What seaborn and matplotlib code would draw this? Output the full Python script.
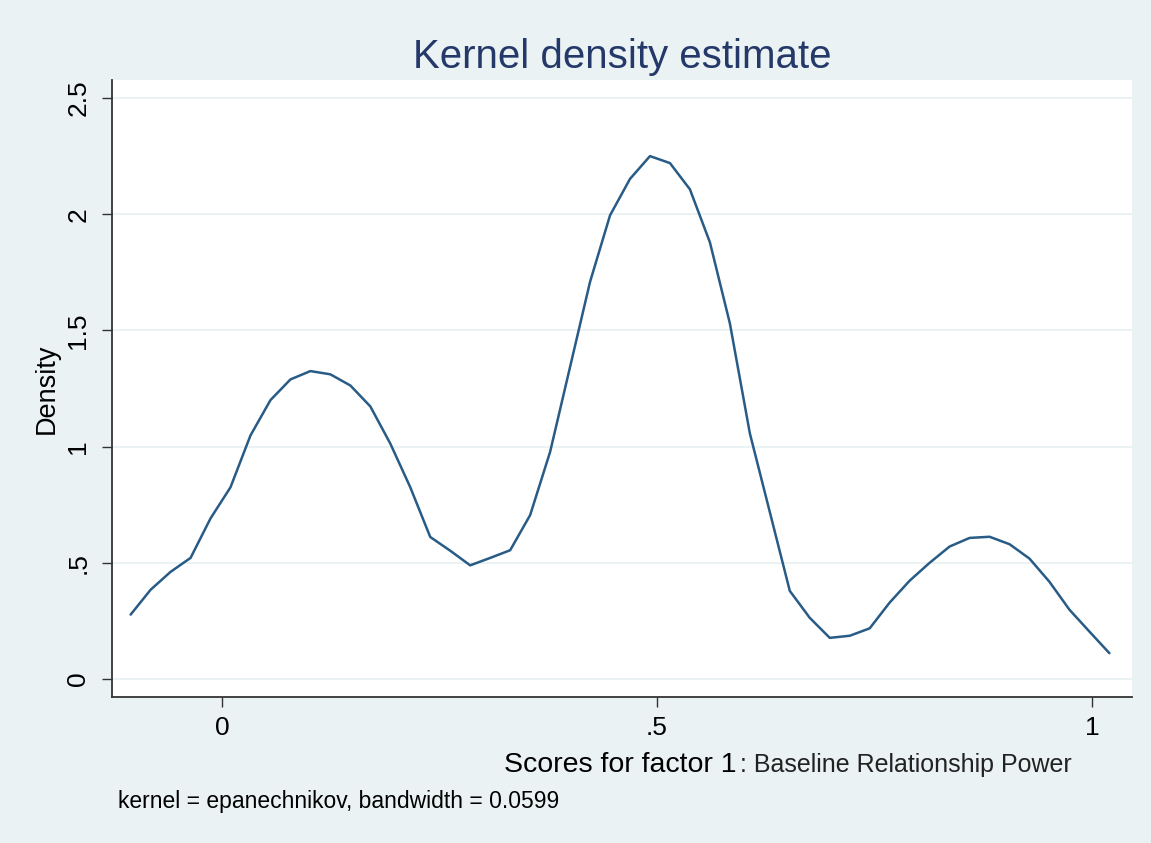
import numpy as np
import pandas as pd
import seaborn as sns
import matplotlib
matplotlib.use("Agg")
import matplotlib.pyplot as plt

# --- data ---
x_start = -0.105
x_step = 0.02296
n_points = 50
density = [0.277, 0.384, 0.461, 0.521, 0.691, 0.825, 1.048, 1.200, 1.289, 1.325,
           1.311, 1.263, 1.173, 1.013, 0.825, 0.611, 0.552, 0.489, 0.521, 0.554,
           0.705, 0.977, 1.343, 1.709, 1.995, 2.152, 2.250, 2.220, 2.107, 1.879,
           1.530, 1.057, 0.718, 0.379, 0.263, 0.177, 0.186, 0.218, 0.329, 0.423,
           0.500, 0.570, 0.607, 0.612, 0.580, 0.518, 0.418, 0.298, 0.204, 0.111]
scores = [x_start + i * x_step for i in range(n_points)]

x_ticks = [0, 0.5, 1]
x_tick_labels = ["0", ".5", "1"]
y_ticks = [0, 0.5, 1, 1.5, 2, 2.5]
y_tick_labels = ["0", ".5", "1", "1.5", "2", "2.5"]

title = "Kernel density estimate"
xlabel_main = "Scores for factor 1"
xlabel_sub = ": Baseline Relationship Power"
ylabel = "Density"
note = "kernel = epanechnikov, bandwidth = 0.0599"

df = pd.DataFrame({"score": scores, "density": density})

# --- styling ---
sns.set_theme(style="white")
plt.rcParams['font.family'] = ['Liberation Sans', 'DejaVu Sans']
bg = "#EAF2F3"
line_col = "#285B86"
title_col = "#24396A"
axis_col = "#333333"

W, H = 1151, 843
fig = plt.figure(figsize=(W / 100, H / 100), dpi=100, facecolor=bg)
L, R, T, B = 112, 1132, 80, 697
ax = fig.add_axes([L / W, 1 - B / H, (R - L) / W, (B - T) / H])
ax.set_facecolor("white")

sns.lineplot(data=df, x="score", y="density", ax=ax, color=line_col, linewidth=1.8)

ax.set_xlim(-0.1264, 1.046)
ax.set_ylim(-0.0775, 2.5775)
ax.set_xticks(x_ticks)
ax.set_xticklabels(x_tick_labels)
ax.set_yticks(y_ticks)
ax.set_yticklabels(y_tick_labels, rotation=90, va="center")

for y in y_ticks:
    ax.axhline(y, color=bg, linewidth=1.4, zorder=0)

for s in ["top", "right"]:
    ax.spines[s].set_visible(False)
for s in ["left", "bottom"]:
    ax.spines[s].set_color(axis_col)
    ax.spines[s].set_linewidth(1.3)

ax.tick_params(axis="both", which="major", bottom=True, left=True, direction="out",
               length=7.5, width=1.0, color=axis_col,
               labelsize=19, labelcolor="black", pad=6)
ax.tick_params(axis="y", pad=8)

ax.set_xlabel("")
ax.set_ylabel(ylabel, fontsize=19.5, color="black", labelpad=5)

fig.text(622 / W, 1 - 68 / H, title, ha="center", va="baseline", fontsize=29, color=title_col)
fig.text(504 / W, 1 - 772 / H, xlabel_main, ha="left", va="baseline", fontsize=20.5, color="black")
fig.text(740 / W, 1 - 772 / H, xlabel_sub, ha="left", va="baseline", fontsize=18, color="#222222")
fig.text(118 / W, 1 - 808 / H, note, ha="left", va="baseline", fontsize=16.5, color="black")

fig.savefig("out.png", dpi=100, facecolor=bg)
